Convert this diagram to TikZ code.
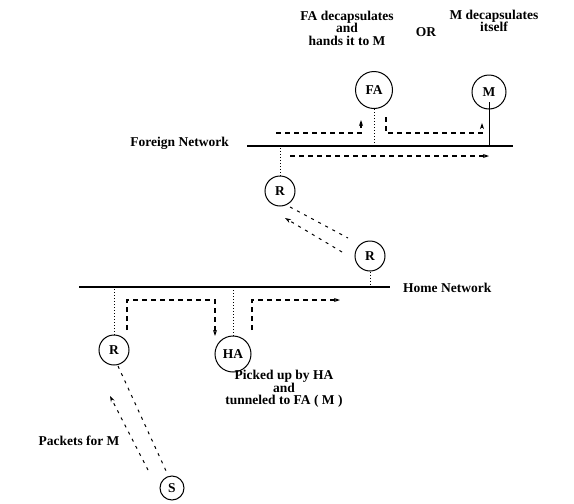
\documentclass[tikz,border=0pt]{standalone}
\usepackage{fontspec}
\setmainfont{Liberation Serif}
\usetikzlibrary{arrows.meta,calc}
\begin{document}
\begin{tikzpicture}[x=1pt,y=-1pt,
  every node/.style={font=\fontsize{13.5}{12.5}\selectfont\bfseries},
  host/.style={circle,draw,line width=1pt,inner sep=0pt},
  net/.style={line width=1.2pt},
  drop/.style={dotted,line width=1pt},
  flow/.style={dash pattern=on 5pt off 4pt,line width=1.1pt,-{Stealth[length=6pt,width=4pt]}},
  hop/.style={dash pattern=on 3pt off 5pt,line width=1pt},
  lbl/.style={align=center,inner sep=0pt}
]
\useasboundingbox (0,0) rectangle (574,504);

% hosts and routers
\node[host,minimum size=37pt] (FA) at (374,90) {FA};
\node[host,minimum size=34pt] (M)  at (489,92) {M};
\node[host,minimum size=30pt] (Rf) at (280,191) {R};
\node[host,minimum size=30pt] (Rm) at (370,256) {R};
\node[host,minimum size=30pt] (Rh) at (114,350) {R};
\node[host,minimum size=36pt] (HA) at (233,354) {HA};
\node[host,minimum size=24pt] (S)  at (172,488) {S};

% network segments
\coordinate (fnW) at (247,146); \coordinate (fnE) at (513,146);
\coordinate (hnW) at (79,287);  \coordinate (hnE) at (390,287);
\draw[net] (fnW) -- (fnE);
\draw[net] (hnW) -- (hnE);
\node[anchor=base east,inner sep=0pt] (fnl) at (229,146.5) {Foreign Network};
\node[anchor=base west,inner sep=0pt] (hnl) at (403,292.5) {Home Network};

% attachments to the segments
\draw[drop] (FA.south) -- (FA.south |- fnW);
\draw[line width=1pt] ($(M.center)+(0,10)$) -- (M.center |- fnW);
\draw[drop] (Rf.north) -- (Rf.north |- fnW);
\draw[drop] (Rm.south) -- (Rm.south |- hnW);
\draw[drop] (Rh.north) -- (Rh.north |- hnW);
\draw[drop] (HA.north) -- (HA.north |- hnW);

% packet flow on the foreign network
\coordinate (a0) at (276,133); \coordinate (a1) at (361,133); \coordinate (a2) at (361,120);
\draw[flow] (a0) -- (a1) -- (a2);
\coordinate (b0) at (386,117); \coordinate (b1) at (386,133);
\coordinate (b2) at (482,133); \coordinate (b3) at (482,123);
\draw[flow] (b0) -- (b1) -- (b2) -- (b3);
\coordinate (c0) at (290,156); \coordinate (c1) at (489,156);
\draw[flow] (c0) -- (c1);

% between the routers
\coordinate (d0) at (290,207); \coordinate (d1) at (348,238);
\draw[hop] (d0) -- (d1);
\coordinate (e0) at (342,252); \coordinate (e1) at (285,218);
\draw[hop,-{Stealth[length=6pt,width=4pt]}] (e0) -- (e1);

% packet flow on the home network
\coordinate (f0) at (127,330); \coordinate (f1) at (127,300);
\coordinate (f2) at (215,300); \coordinate (f3) at (215,336);
\draw[flow] (f0) -- (f1) -- (f2) -- (f3);
\coordinate (g0) at (252,330); \coordinate (g1) at (252,300); \coordinate (g2) at (340,300);
\draw[flow] (g0) -- (g1) -- (g2);

% from the sender to the home router
\coordinate (h0) at (118,366); \coordinate (h1) at (167,473);
\draw[hop] (h0) -- (h1);
\coordinate (i0) at (148,470); \coordinate (i1) at (110,396);
\draw[hop,-{Stealth[length=6pt,width=4pt]}] (i0) -- (i1);

% captions
\node[lbl] (capFA) at (347,28) {FA decapsulates\\and\\hands it to M};
\node[lbl] (capOR) at (426,32) {OR};
\node[lbl] (capM)  at (494,21) {M decapsulates\\itself};
\node[lbl] (capHA) at (284,389) {Picked up by HA\\and\\tunneled to FA ( M )};
\node[lbl] (capS)  at (79,441) {Packets for M};
\end{tikzpicture}
\end{document}
